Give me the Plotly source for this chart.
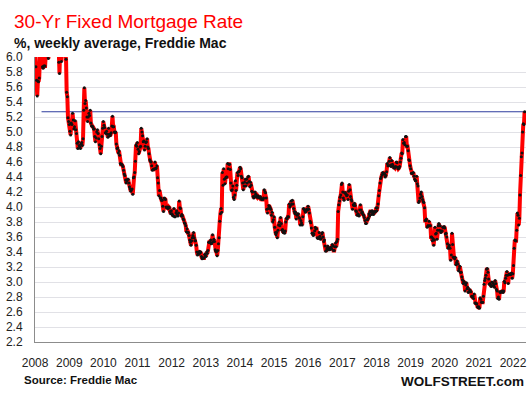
import pandas as pd
import plotly.graph_objects as go

# Weekly 30-yr fixed mortgage rate (%) (Freddie Mac PMMS)
year_starts = ["2008-01-03", "2009-01-08", "2010-01-07", "2011-01-06", "2012-01-05",
               "2013-01-03", "2014-01-02", "2015-01-08", "2016-01-07", "2017-01-05",
               "2018-01-04", "2019-01-03", "2020-01-02", "2021-01-07", "2022-01-06"]

r2008 = [6.07, 5.87, 5.69, 5.48, 5.68, 5.67, 5.72, 6.04, 6.24, 6.03, 6.13, 5.87, 5.85,
         5.88, 5.88, 5.88, 6.03, 6.06, 6.05, 6.01, 5.98, 6.08, 6.09, 6.32, 6.42, 6.45,
         6.35, 6.37, 6.26, 6.63, 6.52, 6.52, 6.58, 6.47, 6.40, 6.35, 5.93, 5.78, 6.09,
         6.10, 5.94, 6.46, 6.04, 6.10, 6.20, 6.14, 6.04, 5.97, 5.53, 5.47, 5.19, 5.14, 5.10]
r2009 = [5.01, 4.96, 5.12, 5.10, 5.25, 5.16, 5.04, 5.07, 5.15, 5.03, 4.98, 4.85, 4.78,
         4.87, 4.82, 4.80, 4.78, 4.84, 4.86, 4.82, 4.91, 5.29, 5.59, 5.38, 5.42, 5.32,
         5.20, 5.14, 5.20, 5.25, 5.22, 5.29, 5.12, 5.08, 5.08, 5.07, 5.04, 5.04, 4.94,
         4.87, 4.92, 5.00, 5.03, 4.98, 4.91, 4.83, 4.78, 4.71, 4.81, 4.94, 5.05, 5.14]
r2010 = [5.09, 5.06, 4.99, 4.98, 5.01, 4.97, 4.93, 5.05, 4.97, 4.95, 4.96, 4.99, 5.08,
         5.21, 5.07, 5.07, 5.00, 4.99, 5.00, 4.84, 4.78, 4.79, 4.72, 4.75, 4.69, 4.58,
         4.57, 4.57, 4.56, 4.54, 4.49, 4.44, 4.42, 4.36, 4.32, 4.35, 4.37, 4.37, 4.32,
         4.27, 4.24, 4.21, 4.23, 4.24, 4.17, 4.39, 4.40, 4.46, 4.61, 4.83, 4.81, 4.86]
r2011 = [4.77, 4.71, 4.74, 4.80, 4.81, 5.05, 5.00, 4.95, 4.87, 4.88, 4.76, 4.81, 4.86,
         4.87, 4.91, 4.80, 4.78, 4.71, 4.63, 4.61, 4.60, 4.55, 4.49, 4.50, 4.50, 4.51,
         4.60, 4.51, 4.52, 4.55, 4.39, 4.32, 4.15, 4.22, 4.12, 4.12, 4.09, 4.09, 4.01,
         3.94, 4.12, 4.11, 4.10, 4.00, 3.99, 4.00, 3.98, 4.00, 3.99, 3.94, 3.91, 3.95]
r2012 = [3.91, 3.89, 3.88, 3.98, 3.87, 3.87, 3.92, 3.95, 3.90, 3.88, 3.92, 4.08, 3.99,
         3.98, 3.88, 3.90, 3.88, 3.84, 3.83, 3.79, 3.78, 3.75, 3.67, 3.71, 3.66, 3.66,
         3.62, 3.56, 3.53, 3.49, 3.55, 3.59, 3.62, 3.66, 3.59, 3.55, 3.55, 3.49, 3.40,
         3.36, 3.39, 3.37, 3.41, 3.39, 3.40, 3.34, 3.31, 3.32, 3.32, 3.32, 3.37, 3.35]
r2013 = [3.34, 3.40, 3.38, 3.42, 3.53, 3.53, 3.53, 3.56, 3.51, 3.52, 3.63, 3.54, 3.57,
         3.54, 3.43, 3.41, 3.40, 3.35, 3.42, 3.51, 3.59, 3.81, 3.91, 3.98, 3.93, 4.46,
         4.29, 4.51, 4.37, 4.31, 4.39, 4.40, 4.40, 4.58, 4.51, 4.57, 4.57, 4.50, 4.32,
         4.22, 4.23, 4.28, 4.13, 4.10, 4.16, 4.35, 4.22, 4.29, 4.46, 4.42, 4.47, 4.48]
r2014 = [4.53, 4.51, 4.41, 4.39, 4.32, 4.23, 4.28, 4.33, 4.37, 4.28, 4.37, 4.32, 4.40,
         4.41, 4.34, 4.27, 4.33, 4.29, 4.21, 4.20, 4.14, 4.12, 4.14, 4.20, 4.17, 4.14,
         4.13, 4.15, 4.13, 4.13, 4.12, 4.14, 4.12, 4.10, 4.10, 4.10, 4.12, 4.23, 4.20,
         4.19, 4.12, 3.97, 3.92, 3.98, 4.02, 4.01, 3.99, 3.97, 3.89, 3.93, 3.80, 3.83, 3.87]
r2015 = [3.73, 3.66, 3.63, 3.66, 3.59, 3.69, 3.76, 3.80, 3.75, 3.86, 3.78, 3.69, 3.70,
         3.66, 3.67, 3.65, 3.68, 3.80, 3.85, 3.84, 3.87, 3.87, 4.04, 4.00, 4.02, 4.08,
         4.04, 4.09, 4.04, 3.98, 3.94, 3.91, 3.93, 3.84, 3.89, 3.90, 3.91, 3.86, 3.85,
         3.76, 3.82, 3.79, 3.76, 3.87, 3.98, 3.97, 3.95, 3.93, 3.95, 3.97, 3.96, 4.01]
r2016 = [3.97, 3.92, 3.81, 3.79, 3.72, 3.65, 3.65, 3.62, 3.64, 3.68, 3.73, 3.71, 3.71,
         3.59, 3.58, 3.59, 3.66, 3.61, 3.57, 3.58, 3.64, 3.66, 3.60, 3.54, 3.56, 3.48,
         3.41, 3.42, 3.45, 3.48, 3.43, 3.45, 3.43, 3.46, 3.46, 3.44, 3.50, 3.48, 3.42,
         3.42, 3.47, 3.52, 3.47, 3.54, 3.57, 3.94, 4.03, 4.08, 4.13, 4.16, 4.30, 4.32]
r2017 = [4.20, 4.12, 4.09, 4.19, 4.19, 4.17, 4.15, 4.16, 4.10, 4.21, 4.30, 4.23, 4.14,
         4.10, 4.08, 3.97, 4.03, 4.02, 4.05, 4.02, 3.95, 3.94, 3.89, 3.91, 3.90, 3.88,
         3.96, 4.03, 3.96, 3.92, 3.93, 3.90, 3.89, 3.86, 3.82, 3.78, 3.78, 3.83, 3.83,
         3.85, 3.91, 3.88, 3.94, 3.94, 3.90, 3.95, 3.92, 3.90, 3.94, 3.93, 3.94, 3.99]
r2018 = [3.95, 3.99, 4.04, 4.15, 4.22, 4.32, 4.38, 4.40, 4.43, 4.46, 4.44, 4.45, 4.44,
         4.40, 4.42, 4.47, 4.58, 4.55, 4.55, 4.61, 4.66, 4.56, 4.54, 4.62, 4.57, 4.55,
         4.52, 4.53, 4.52, 4.54, 4.60, 4.59, 4.53, 4.51, 4.52, 4.54, 4.60, 4.65, 4.72,
         4.71, 4.90, 4.85, 4.86, 4.83, 4.94, 4.94, 4.81, 4.81, 4.75, 4.63, 4.62, 4.55]
r2019 = [4.51, 4.45, 4.45, 4.45, 4.46, 4.41, 4.37, 4.35, 4.35, 4.41, 4.31, 4.28, 4.06,
         4.08, 4.12, 4.17, 4.20, 4.14, 4.10, 4.07, 4.06, 3.99, 3.82, 3.82, 3.84, 3.73,
         3.75, 3.75, 3.81, 3.75, 3.75, 3.60, 3.60, 3.55, 3.58, 3.49, 3.56, 3.73, 3.64,
         3.65, 3.57, 3.69, 3.75, 3.78, 3.69, 3.75, 3.66, 3.68, 3.68, 3.73, 3.73, 3.74]
r2020 = [3.72, 3.64, 3.65, 3.60, 3.51, 3.45, 3.47, 3.49, 3.45, 3.29, 3.36, 3.65, 3.50,
         3.33, 3.33, 3.31, 3.33, 3.23, 3.26, 3.28, 3.24, 3.15, 3.18, 3.21, 3.13, 3.13,
         3.07, 3.03, 2.98, 3.01, 2.99, 2.88, 2.96, 2.99, 2.91, 2.93, 2.86, 2.87, 2.90,
         2.88, 2.87, 2.81, 2.80, 2.81, 2.78, 2.84, 2.72, 2.72, 2.71, 2.71, 2.67, 2.66, 2.67]
r2021 = [2.65, 2.79, 2.77, 2.73, 2.73, 2.73, 2.81, 2.97, 3.02, 3.05, 3.09, 3.17, 3.18,
         3.13, 3.04, 2.97, 2.98, 2.96, 2.94, 3.00, 2.95, 2.99, 2.96, 2.93, 3.02, 2.98,
         2.90, 2.88, 2.78, 2.80, 2.77, 2.87, 2.86, 2.87, 2.87, 2.88, 2.86, 2.88, 3.01,
         2.99, 3.05, 3.09, 3.14, 3.09, 2.98, 3.10, 3.10, 3.11, 3.10, 3.12, 3.05, 3.11]
r2022 = [3.22, 3.45, 3.56, 3.55, 3.55, 3.69, 3.92, 3.89, 3.76, 3.85, 4.16, 4.42, 4.67,
         4.72, 5.00, 5.11, 5.10, 5.27]

yearly_rates = [r2008, r2009, r2010, r2011, r2012, r2013, r2014, r2015, r2016,
                r2017, r2018, r2019, r2020, r2021, r2022]

tick_years = list(range(2008, 2023))
latest_level = 5.27
latest_line_start = "2008-03-10"

dates, rates = [], []
for start, vals in zip(year_starts, yearly_rates):
    dates += list(pd.date_range(start, periods=len(vals), freq="7D"))
    rates += vals

fig = go.Figure()
fig.add_trace(go.Scatter(
    x=[pd.Timestamp(latest_line_start), dates[-1]], y=[latest_level, latest_level],
    mode="lines", line=dict(color="#2E3D9E", width=1.2), hoverinfo="skip",
    showlegend=False))
fig.add_trace(go.Scatter(
    x=dates, y=rates, mode="lines+markers",
    line=dict(color="#FF0000", width=4),
    marker=dict(color="#111111", size=3),
    showlegend=False))

fig.update_layout(
    width=530, height=397,
    margin=dict(l=35, r=4, t=57, b=55),
    paper_bgcolor="white", plot_bgcolor="white",
    font=dict(family="Liberation Sans, Arial, sans-serif", color="#333333"),
    xaxis=dict(
        range=["2007-12-31", "2022-05-20"],
        tickvals=[f"{y}-01-01" for y in tick_years],
        ticktext=[str(y) for y in tick_years],
        showgrid=False, zeroline=False,
        showline=True, linecolor="#8C8C8C", linewidth=1,
        ticks="", ticklabelstandoff=10,
        tickfont=dict(size=12, color="#222222"),
    ),
    yaxis=dict(
        range=[2.2, 6.0], dtick=0.2, tick0=2.2, tickformat=".1f",
        showgrid=True, gridcolor="#E1E1E6", gridwidth=1,
        zeroline=False, showline=True, linecolor="#8C8C8C", linewidth=1,
        ticks="", ticklabelstandoff=9,
        tickfont=dict(size=12, color="#222222"),
    ),
    annotations=[
        dict(text="30-Yr Fixed Mortgage Rate", xref="paper", yref="paper",
             x=-0.047, y=1.0, xanchor="left", yanchor="bottom", yshift=23,
             showarrow=False, font=dict(size=19, color="#FF0000")),
        dict(text="<b>%, weekly average, Freddie Mac</b>", xref="paper", yref="paper",
             x=-0.047, y=1.0, xanchor="left", yanchor="bottom", yshift=4,
             showarrow=False, font=dict(size=14, color="#111111")),
        dict(text="<b>Source: Freddie Mac</b>", xref="paper", yref="paper",
             x=-0.026, y=0, xanchor="left", yanchor="top", yshift=-30,
             showarrow=False, font=dict(size=11.5, color="#111111")),
        dict(text="<b>WOLFSTREET.com</b>", xref="paper", yref="paper",
             x=1.0, y=0, xanchor="right", yanchor="top", yshift=-30,
             showarrow=False, font=dict(size=13.5, color="#111111")),
    ],
)

fig.write_html("out.html", config={"displayModeBar": False},
               post_script="document.body.style.margin='0';document.body.style.padding='0';")
